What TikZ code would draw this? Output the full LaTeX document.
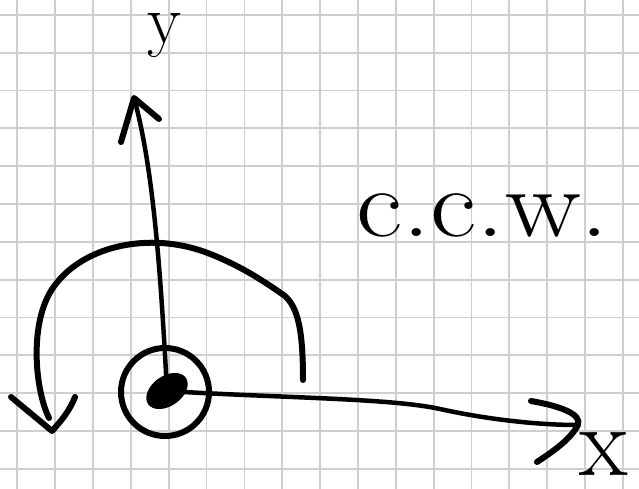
\documentclass[tikz,border=0pt]{standalone}
\usetikzlibrary{shapes.geometric}
\begin{document}
\begin{tikzpicture}[x=1pt,y=-1pt,
  grid line/.style={draw=black!19,line width=1.8pt},
  ink/.style={draw=black,line width=6pt,line cap=round,line join=round},
  inkthin/.style={draw=black,line width=4.5pt,line cap=round,line join=round},
  label/.style={inner sep=0pt,text=black}]
\useasboundingbox (0,0) rectangle (639,489);
\fill[white] (0,0) rectangle (639,489);
% grid
\foreach \k in {0,...,16} {\draw[grid line] ({17.3+37.85*\k},0) -- ({17.3+37.85*\k},489);}
\foreach \k in {0,...,12} {\draw[grid line] (0,{15+37.8*\k}) -- (639,{15+37.8*\k});}
% origin
\node[circle,ink,minimum size=88pt,inner sep=0pt] (ring) at (165,392) {};
\node[ellipse,fill=black,minimum width=46pt,minimum height=30pt,inner sep=0pt,rotate=35] (c) at (167,391) {};
% y axis
\coordinate (ytip) at (134,98);
\draw[inkthin] (c.center) .. controls (161,280) and (154,170) .. (ytip);
\draw[ink] (121,142) -- (ytip) -- (159,119);
% x axis
\coordinate (xtip) at (578,425);
\draw[inkthin] (c.center) .. controls (280,398) and (390,398) .. (440,409) .. controls (490,420) and (540,425) .. (xtip);
\draw[ink] (531,401) .. controls (560,406) and (582,414) .. (xtip) .. controls (570,440) and (552,452) .. (537,462);
% rotation arc
\coordinate (arcstart) at (303,380);
\coordinate (arctip) at (52,431);
\draw[ink] (arcstart) .. controls (303,330) and (298,308) .. (285,296) .. controls (265,282) and (240,265) .. (205,252) .. controls (150,232) and (85,245) .. (55,285) .. controls (28,320) and (35,390) .. (49,418);
\draw[ink] (11,397) -- (arctip) .. controls (62,420) and (70,410) .. (75,397);
% labels
\node[label,font=\fontsize{70}{70}\selectfont] (ylab) at (164,36) {y};
\node[label,font=\fontsize{100}{100}\selectfont,anchor=center] (xlab) at (604,454) {x};
\node[label,font=\fontsize{97}{97}\selectfont,anchor=base west] (ccw) at (356,236) {\scalebox{1.17}[1]{c.c.w.}};
\end{tikzpicture}
\end{document}
